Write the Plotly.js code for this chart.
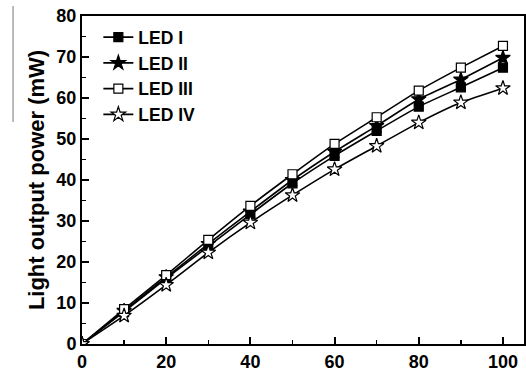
<!DOCTYPE html>
<html>
<head>
<meta charset="utf-8">
<script src="https://cdn.plot.ly/plotly-3.0.1.min.js"></script>
<style>html,body{margin:0;padding:0;background:#fff;}#chart{width:526px;height:376px;}</style>
</head>
<body>
<div id="chart"></div>
<script>
const current = [0, 10, 20, 30, 40, 50, 60, 70, 80, 90, 100];
const ledI   = [0, 7.9, 16.0, 23.8, 31.6, 39.2, 45.9, 52.0, 57.9, 62.6, 67.4];
const ledII  = [0, 8.1, 16.3, 24.4, 32.3, 40.0, 46.9, 53.2, 59.7, 64.5, 69.8];
const ledIII = [0, 8.5, 16.8, 25.4, 33.7, 41.4, 48.8, 55.3, 61.8, 67.4, 72.7];
const ledIV  = [0, 6.9, 14.4, 22.3, 29.6, 36.3, 42.6, 48.3, 54.0, 58.9, 62.4];
const names = ['LED I', 'LED II', 'LED III', 'LED IV'];
const xTicks = [0, 20, 40, 60, 80, 100];
const yTicks = [0, 10, 20, 30, 40, 50, 60, 70, 80];

const FONT = 'Liberation Sans, Arial, Helvetica, sans-serif';
function tr(y, name, symbol, fill, size) {
  return {
    x: current, y: y, name: name, type: 'scatter', mode: 'lines+markers',
    line: {color: '#000', width: 1.6, shape: 'spline', smoothing: 0.5},
    marker: {symbol: symbol, size: size, color: fill, line: {color: '#000', width: 1.2}}
  };
}
const data = [
  tr(ledI, names[0], 'square', '#000', 9),
  tr(ledII, names[1], 'star', '#000', 11),
  tr(ledIII, names[2], 'square', '#fff', 9),
  tr(ledIV, names[3], 'star', '#fff', 11)
];
const axisCommon = {
  showgrid: false, zeroline: false, showline: true, mirror: true,
  linecolor: '#000', linewidth: 2, ticks: 'inside', ticklen: 7, tickwidth: 2, tickcolor: '#000',
  tickfont: {family: FONT, size: 18, color: '#000', weight: 'bold'},
  minor: {ticks: 'inside', ticklen: 4, tickwidth: 1.5, tickcolor: '#000'}
};
const layout = {
  width: 526, height: 376,
  margin: {l: 82, r: 2, t: 16, b: 32},
  paper_bgcolor: '#fff', plot_bgcolor: '#fff',
  showlegend: true,
  legend: {x: 0.037, y: 0.99, xanchor: 'left', yanchor: 'top', bgcolor: 'rgba(0,0,0,0)',
           font: {family: FONT, size: 17.5, color: '#000', weight: 'bold'}, tracegroupgap: 0},
  xaxis: Object.assign({}, axisCommon, {range: [0, 105], tickvals: xTicks, ticktext: xTicks.map(String),
           minor: Object.assign({}, axisCommon.minor, {dtick: 10, tick0: 0})}),
  yaxis: Object.assign({}, axisCommon, {range: [0, 80], tickvals: yTicks, ticktext: yTicks.map(String),
           minor: Object.assign({}, axisCommon.minor, {dtick: 10, tick0: 5}),
           title: {text: 'Light output power (mW)', font: {family: FONT, size: 22, color: '#000', weight: 'bold'}, standoff: 6}}),
  shapes: [{type: 'line', xref: 'paper', yref: 'paper', x0: -0.156, x1: -0.156,
            y0: (344 - 6) / 328, y1: (344 - 122) / 328, line: {color: '#777', width: 1}}]
};
Plotly.newPlot('chart', data, layout, {displayModeBar: false, staticPlot: true});
</script>
</body>
</html>
